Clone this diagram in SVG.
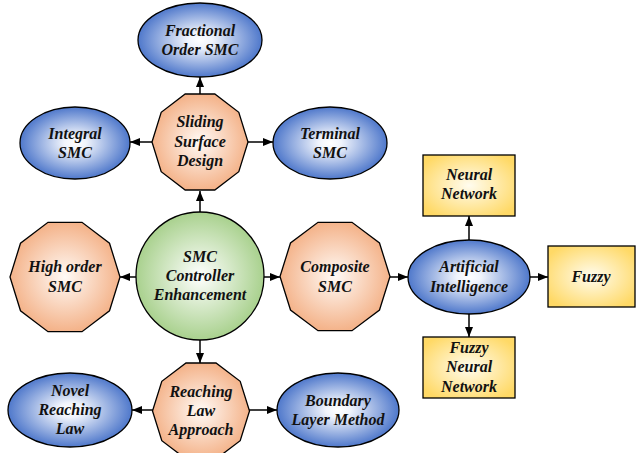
<svg xmlns="http://www.w3.org/2000/svg" width="636" height="453" viewBox="0 0 636 453">
<defs>
<radialGradient id="gBlue" cx="50%" cy="50%" r="50%">
<stop offset="0" stop-color="#ffffff"/>
<stop offset="0.2" stop-color="#f0f4fc"/>
<stop offset="1" stop-color="#4f78cb"/>
</radialGradient>
<radialGradient id="gOrange" cx="50%" cy="50%" r="50%">
<stop offset="0" stop-color="#fffaf6"/>
<stop offset="1" stop-color="#f4b38a"/>
</radialGradient>
<radialGradient id="gGreen" cx="50%" cy="50%" r="50%">
<stop offset="0" stop-color="#ffffff"/>
<stop offset="1" stop-color="#a9d18e"/>
</radialGradient>
<radialGradient id="gYellow" cx="50%" cy="50%" r="60%">
<stop offset="0" stop-color="#fffcef"/>
<stop offset="1" stop-color="#ffd966"/>
</radialGradient>
<marker id="arr" markerWidth="10" markerHeight="8" refX="10" refY="4" orient="auto" markerUnits="userSpaceOnUse">
<path d="M0,0 L10,4 L0,8 z" fill="#000"/>
</marker>
</defs>
<style>
.ell{fill:url(#gBlue);stroke:#000;stroke-width:1.3}
.dec{fill:url(#gOrange);stroke:#000;stroke-width:1.3}
.cir{fill:url(#gGreen);stroke:#000;stroke-width:1.3}
.box{fill:url(#gYellow);stroke:#000;stroke-width:1.3}
.con line{stroke:#000;stroke-width:1.5;marker-end:url(#arr)}
</style>

<g class="con">
<line x1="200" y1="212" x2="200" y2="191"/>
<line x1="200" y1="94" x2="200" y2="77"/>
<line x1="152" y1="142" x2="130" y2="142"/>
<line x1="248" y1="142" x2="273" y2="142"/>
<line x1="136" y1="277" x2="120" y2="277"/>
<line x1="264" y1="277" x2="280" y2="277"/>
<line x1="200" y1="340" x2="200" y2="363"/>
<line x1="153" y1="410" x2="132" y2="410"/>
<line x1="249" y1="410" x2="277" y2="410"/>
<line x1="390" y1="277" x2="408" y2="277"/>
<line x1="469" y1="240" x2="469" y2="216"/>
<line x1="530" y1="277" x2="548" y2="277"/>
<line x1="469" y1="314" x2="469" y2="337"/>
</g>

<g id="smc">
<circle class="cir" cx="200" cy="276" r="64"/>
<text x="200" y="262" font-family="Liberation Serif" font-weight="bold" font-style="italic" font-size="16" text-anchor="middle" fill="#111">SMC</text>
<text x="200" y="281" font-family="Liberation Serif" font-weight="bold" font-style="italic" font-size="16" text-anchor="middle" fill="#111">Controller</text>
<text x="200" y="300" font-family="Liberation Serif" font-weight="bold" font-style="italic" font-size="16" text-anchor="middle" fill="#111">Enhancement</text>
</g>

<g id="sliding">
<polygon class="dec" points="248,142 238.8,171.7 214.8,190 185.2,190 161.2,171.7 152,142 161.2,112.3 185.2,94 214.8,94 238.8,112.3"/>
<text x="200" y="127" font-family="Liberation Serif" font-weight="bold" font-style="italic" font-size="16" text-anchor="middle" fill="#111">Sliding</text>
<text x="200" y="147" font-family="Liberation Serif" font-weight="bold" font-style="italic" font-size="16" text-anchor="middle" fill="#111">Surface</text>
<text x="200" y="166" font-family="Liberation Serif" font-weight="bold" font-style="italic" font-size="16" text-anchor="middle" fill="#111">Design</text>
</g>

<g id="fractional">
<ellipse class="ell" cx="200" cy="40" rx="62" ry="37"/>
<text x="200" y="36" font-family="Liberation Serif" font-weight="bold" font-style="italic" font-size="16" text-anchor="middle" fill="#111">Fractional</text>
<text x="200" y="55" font-family="Liberation Serif" font-weight="bold" font-style="italic" font-size="16" text-anchor="middle" fill="#111">Order SMC</text>
</g>

<g id="integral">
<ellipse class="ell" cx="75" cy="143" rx="55" ry="36"/>
<text x="75" y="139" font-family="Liberation Serif" font-weight="bold" font-style="italic" font-size="16" text-anchor="middle" fill="#111">Integral</text>
<text x="75" y="158" font-family="Liberation Serif" font-weight="bold" font-style="italic" font-size="16" text-anchor="middle" fill="#111">SMC</text>
</g>

<g id="terminal">
<ellipse class="ell" cx="330" cy="143" rx="57" ry="36"/>
<text x="330" y="139" font-family="Liberation Serif" font-weight="bold" font-style="italic" font-size="16" text-anchor="middle" fill="#111">Terminal</text>
<text x="330" y="158" font-family="Liberation Serif" font-weight="bold" font-style="italic" font-size="16" text-anchor="middle" fill="#111">SMC</text>
</g>

<g id="highorder">
<polygon class="dec" points="120,277 109.5,310.8 82,331.7 48,331.7 20.5,310.8 10,277 20.5,243.2 48,222.3 82,222.3 109.5,243.2"/>
<text x="65" y="272" font-family="Liberation Serif" font-weight="bold" font-style="italic" font-size="16" text-anchor="middle" fill="#111">High order</text>
<text x="65" y="292" font-family="Liberation Serif" font-weight="bold" font-style="italic" font-size="16" text-anchor="middle" fill="#111">SMC</text>
</g>

<g id="composite">
<polygon class="dec" points="390,276.5 379.5,310 352,330.7 318,330.7 290.5,310 280,276.5 290.5,243 318,222.3 352,222.3 379.5,243"/>
<text x="335" y="272" font-family="Liberation Serif" font-weight="bold" font-style="italic" font-size="16" text-anchor="middle" fill="#111">Composite</text>
<text x="335" y="292" font-family="Liberation Serif" font-weight="bold" font-style="italic" font-size="16" text-anchor="middle" fill="#111">SMC</text>
</g>

<g id="reaching">
<polygon class="dec" points="249.5,411 240.2,440.7 216,459 186,459 161.8,440.7 152.5,411 161.8,381.3 186,363 216,363 240.2,381.3"/>
<text x="201" y="397" font-family="Liberation Serif" font-weight="bold" font-style="italic" font-size="16" text-anchor="middle" fill="#111">Reaching</text>
<text x="201" y="416" font-family="Liberation Serif" font-weight="bold" font-style="italic" font-size="16" text-anchor="middle" fill="#111">Law</text>
<text x="201" y="435" font-family="Liberation Serif" font-weight="bold" font-style="italic" font-size="16" text-anchor="middle" fill="#111">Approach</text>
</g>

<g id="novel">
<ellipse class="ell" cx="70" cy="410" rx="62" ry="37"/>
<text x="70" y="396" font-family="Liberation Serif" font-weight="bold" font-style="italic" font-size="16" text-anchor="middle" fill="#111">Novel</text>
<text x="70" y="415" font-family="Liberation Serif" font-weight="bold" font-style="italic" font-size="16" text-anchor="middle" fill="#111">Reaching</text>
<text x="70" y="434" font-family="Liberation Serif" font-weight="bold" font-style="italic" font-size="16" text-anchor="middle" fill="#111">Law</text>
</g>

<g id="boundary">
<ellipse class="ell" cx="338" cy="410" rx="61" ry="37"/>
<text x="338" y="406" font-family="Liberation Serif" font-weight="bold" font-style="italic" font-size="16" text-anchor="middle" fill="#111">Boundary</text>
<text x="338" y="425" font-family="Liberation Serif" font-weight="bold" font-style="italic" font-size="16" text-anchor="middle" fill="#111">Layer Method</text>
</g>

<g id="ai">
<ellipse class="ell" cx="469" cy="277" rx="61" ry="37"/>
<text x="469" y="272" font-family="Liberation Serif" font-weight="bold" font-style="italic" font-size="16" text-anchor="middle" fill="#111">Artificial</text>
<text x="469" y="292" font-family="Liberation Serif" font-weight="bold" font-style="italic" font-size="16" text-anchor="middle" fill="#111">Intelligence</text>
</g>

<g id="neural">
<rect class="box" x="423" y="155" width="92" height="61"/>
<text x="469" y="180" font-family="Liberation Serif" font-weight="bold" font-style="italic" font-size="16" text-anchor="middle" fill="#111">Neural</text>
<text x="469" y="199" font-family="Liberation Serif" font-weight="bold" font-style="italic" font-size="16" text-anchor="middle" fill="#111">Network</text>
</g>

<g id="fuzzy">
<rect class="box" x="548" y="246" width="87" height="61"/>
<text x="591" y="282" font-family="Liberation Serif" font-weight="bold" font-style="italic" font-size="16" text-anchor="middle" fill="#111">Fuzzy</text>
</g>

<g id="fnn">
<rect class="box" x="423" y="337" width="92" height="61"/>
<text x="469" y="353" font-family="Liberation Serif" font-weight="bold" font-style="italic" font-size="16" text-anchor="middle" fill="#111">Fuzzy</text>
<text x="469" y="372" font-family="Liberation Serif" font-weight="bold" font-style="italic" font-size="16" text-anchor="middle" fill="#111">Neural</text>
<text x="469" y="392" font-family="Liberation Serif" font-weight="bold" font-style="italic" font-size="16" text-anchor="middle" fill="#111">Network</text>
</g>
</svg>
